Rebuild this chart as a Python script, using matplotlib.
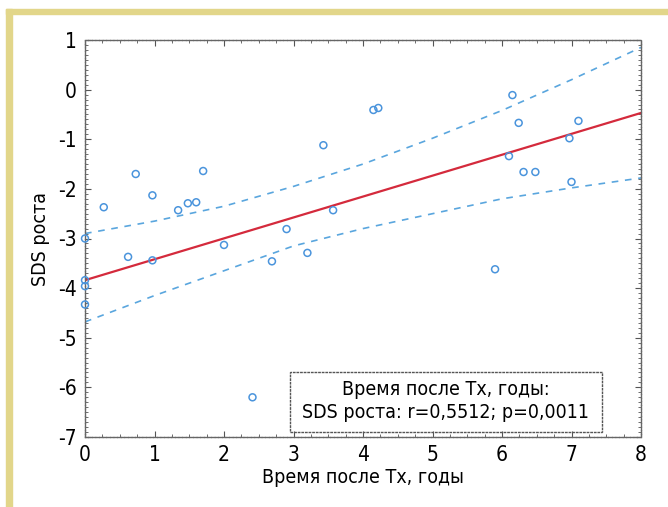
import numpy as np
import matplotlib
matplotlib.use('Agg')
import matplotlib.pyplot as plt
from matplotlib import font_manager
from matplotlib.patches import Rectangle
from matplotlib.ticker import MultipleLocator

# narrow font if one is there, else Arial-like Liberation Sans
fonts = font_manager.fontManager.ttflist
names = {f.name for f in fonts}
if 'Liberation Sans Narrow' in names:
    plt.rcParams['font.family'] = ['Liberation Sans Narrow', 'DejaVu Sans']
    base_size = 14
elif any(f.name == 'DejaVu Sans' and f.stretch == 'condensed' for f in fonts):
    plt.rcParams['font.family'] = ['DejaVu Sans']
    plt.rcParams['font.stretch'] = 'condensed'
    base_size = 13
else:
    plt.rcParams['font.family'] = ['Liberation Sans', 'DejaVu Sans']
    base_size = 13
plt.rcParams['axes.unicode_minus'] = False

# time after Tx (years) and growth SDS
t_years = [0, 0, 0, 0, 0.27, 0.73, 0.97, 0.62, 0.97, 1.34, 1.48, 1.6, 1.7,
           2.0, 2.41, 2.69, 2.9, 3.2, 3.43, 3.57, 4.15, 4.22, 5.9, 6.1,
           6.15, 6.24, 6.31, 6.48, 6.97, 7.0, 7.1]
sds = [-3.0, -3.84, -3.96, -4.33, -2.37, -1.7, -2.13, -3.37, -3.44, -2.43,
       -2.29, -2.27, -1.64, -3.13, -6.2, -3.46, -2.81, -3.29, -1.12, -2.43,
       -0.41, -0.37, -3.62, -1.34, -0.11, -0.67, -1.66, -1.66, -0.98, -1.86,
       -0.63]

# regression line and 95% band, read at whole years
fit_x = [0, 8]
fit_y = [-3.84, -0.47]
band_x = [0, 1, 2, 3, 4, 5, 6, 7, 8]
band_upper = [-2.9, -2.65, -2.35, -1.95, -1.5, -0.98, -0.42, 0.2, 0.85]
band_lower = [-4.68, -4.15, -3.65, -3.15, -2.8, -2.5, -2.2, -1.98, -1.78]

xlabel = 'Время после Tx, годы'
ylabel = 'SDS роста'
note = 'Время после Tx, годы:\nSDS роста: r=0,5512; p=0,0011'

fig = plt.figure(figsize=(6.68, 5.07), dpi=100)

# yellow frame at top and left
gold = '#e2d68a'
fig.patches.append(Rectangle((6/668, 0), 6/668, 1 - 9/507, transform=fig.transFigure,
                             color=gold, zorder=0))
fig.patches.append(Rectangle((6/668, 1 - 14/507), 1, 5/507, transform=fig.transFigure,
                             color=gold, zorder=0))

ax = fig.add_axes([85/668, 1 - 437/507, 556/668, 397/507])

blue = '#5aa6de'
ax.plot(band_x, band_upper, color=blue, lw=1.2, dashes=(4, 4))
ax.plot(band_x, band_lower, color=blue, lw=1.2, dashes=(4, 4))
ax.plot(fit_x, fit_y, color='#d42a3c', lw=1.6)
ax.scatter(t_years, sds, s=25, facecolors='none', edgecolors='#4a94dc',
           linewidths=1.1, zorder=3, clip_on=False)

ax.set_xlim(0, 8)
ax.set_ylim(-7, 1)
ax.xaxis.set_major_locator(MultipleLocator(1))
ax.yaxis.set_major_locator(MultipleLocator(1))
ax.xaxis.set_minor_locator(MultipleLocator(0.25))
ax.yaxis.set_minor_locator(MultipleLocator(0.1))
ax.tick_params(which='both', direction='in', top=True, right=True,
               color='#555555', labelsize=base_size + 2, pad=6)
ax.tick_params(which='major', length=4)
ax.tick_params(which='minor', length=2)
for sp in ax.spines.values():
    sp.set_color('#666666')
    sp.set_linewidth(1.0)
    sp.set_linestyle((0, (2, 0.6)))

ax.set_xlabel(xlabel, fontsize=base_size + 1, labelpad=2)
ax.set_ylabel(ylabel, fontsize=base_size + 1, labelpad=6)

ax.add_patch(Rectangle((0.369, 0.0126), 0.561, 0.151, transform=ax.transAxes,
                       fill=False, edgecolor='#555555', lw=1.0,
                       linestyle=(0, (2, 0.6)), zorder=4))
ax.text(0.649, 0.09, note, transform=ax.transAxes, ha='center', va='center',
        fontsize=base_size + 1, linespacing=1.25, zorder=5)

fig.savefig('out.png', dpi=100)
